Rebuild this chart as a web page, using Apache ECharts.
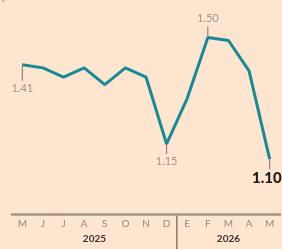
<!DOCTYPE html>
<html><head><meta charset="utf-8">
<script src="https://cdn.jsdelivr.net/npm/echarts@6/dist/echarts.min.js"></script>
<style>html,body{margin:0;padding:0;background:#fde5d0;}#c{width:282px;height:249px;}</style>
</head><body><div id="c"></div>
<script>
const months = ['M','J','J','A','S','O','N','D','E','F','M','A','M'];
const values = [1.41,1.40,1.37,1.40,1.345,1.40,1.37,1.15,1.30,1.50,1.49,1.39,1.10];
const years = ['2025','2026'];
const yearStartIdx = [0,8];
const yearEndIdx = [7,12];
const labeled = [
  {i:0, text:'1.41', pos:'below', bold:false, tick:16},
  {i:7, text:'1.15', pos:'below', bold:false, tick:10},
  {i:9, text:'1.50', pos:'above', bold:false, tick:11},
  {i:12, text:'1.10', pos:'below', bold:true, tick:10}
];
const chart = echarts.init(document.getElementById('c'), null, {renderer:'canvas'});
const FONT = 'Lato, "Open Sans", sans-serif';
chart.setOption({
  animation:false,
  backgroundColor:'#fde5d0',
  grid:{left:12,right:2,top:7,bottom:35},
  xAxis:{type:'category',data:months,boundaryGap:true,
    axisLine:{lineStyle:{color:'#a39589',width:2.5}},
    axisTick:{show:false},
    axisLabel:{color:'#948880',fontSize:10,fontFamily:FONT,margin:5,interval:0}},
  yAxis:{type:'value',min:0.92,max:1.6,show:false,splitLine:{show:false}},
  series:[
    {type:'line',data:values,symbol:'none',lineStyle:{color:'#178a95',width:3},z:3},
    {type:'custom',data:labeled.map(d=>[d.i,values[d.i]]),z:4,
      renderItem:function(params,api){
        const d=labeled[params.dataIndex];
        const p=api.coord([api.value(0),api.value(1)]);
        const dir = d.pos==='below'?1:-1;
        const tickLen = d.tick;
        const children=[{type:'line',shape:{x1:p[0],y1:p[1],x2:p[0],y2:p[1]+dir*tickLen},style:{stroke:'#7d726b',lineWidth:1}}];
        let tx=p[0], align='center';
        if(d.bold){ tx=p[0]+12; align='right'; }
        children.push({type:'text',x:tx,y:p[1]+dir*(tickLen+ (d.bold?1:2)),
          style:{text:d.text,fill:d.bold?'#1f1a17':'#a0958e',font:(d.bold?'900 15px ':'11px ')+FONT,
            align:align,verticalAlign:d.pos==='below'?'top':'bottom'}});
        return {type:'group',children:children};
      }}
  ]
});
const axisY = chart.convertToPixel({gridIndex:0},[0,0.92])[1];
const g=[];
g.push({type:'text',left:2,top:-9,style:{text:'per cent',fill:'#8d8179',font:'11px '+FONT}});
years.forEach((y,k)=>{
  const a=chart.convertToPixel({xAxisIndex:0},yearStartIdx[k]);
  const b=chart.convertToPixel({xAxisIndex:0},yearEndIdx[k]);
  g.push({type:'text',x:(a+b)/2,y:axisY+20,style:{text:y,fill:'#3b302a',font:'bold 10px '+FONT,align:'center',verticalAlign:'top'}});
});
const d1=chart.convertToPixel({xAxisIndex:0},7), d2=chart.convertToPixel({xAxisIndex:0},8);
g.push({type:'line',shape:{x1:(d1+d2)/2,y1:axisY,x2:(d1+d2)/2,y2:249},style:{stroke:'#4d423c',lineWidth:1}});
chart.setOption({graphic:g});
</script></body></html>
